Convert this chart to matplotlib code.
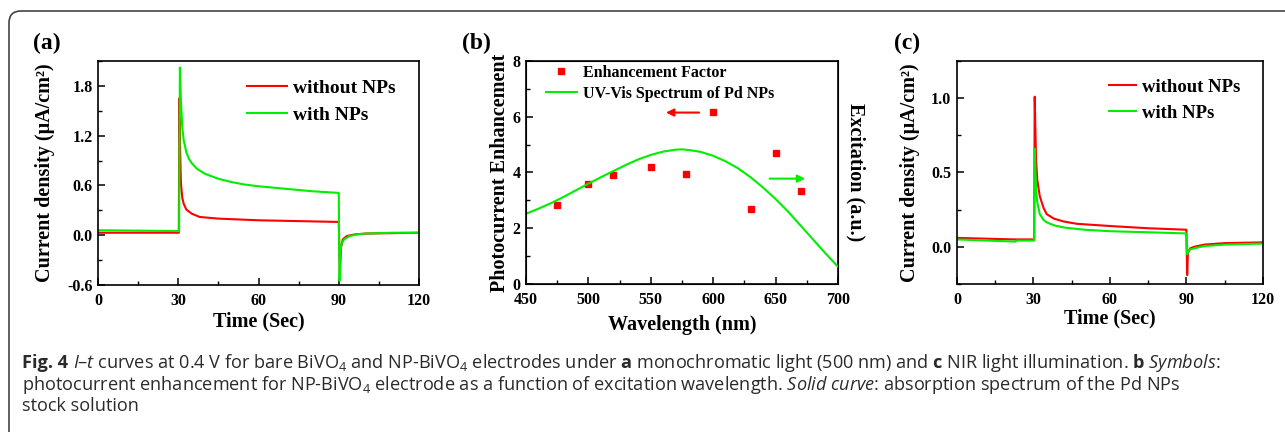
import matplotlib
matplotlib.use('Agg')
import matplotlib.pyplot as plt
from matplotlib.patches import FancyBboxPatch
from matplotlib.ticker import MultipleLocator

plt.rcParams['font.family'] = ['Liberation Serif', 'DejaVu Serif']
plt.rcParams['font.weight'] = 'bold'
plt.rcParams['axes.labelweight'] = 'bold'
plt.rcParams['axes.unicode_minus'] = False
plt.rcParams['mathtext.fontset'] = 'custom'
plt.rcParams['mathtext.rm'] = 'Open Sans:normal'
plt.rcParams['mathtext.it'] = 'Open Sans:italic:normal'
plt.rcParams['mathtext.bf'] = 'Open Sans:bold'
plt.rcParams['mathtext.default'] = 'regular'

# (a) monochromatic light 500 nm
t_a_red = [0, 30.2, 30.4, 30.7, 31, 31.5, 32, 33, 35, 38, 45, 60, 75, 90, 90.1, 90.4, 90.8, 91.5, 93, 96, 100, 120]
j_a_red = [0.03, 0.03, 1.65, 1.0, 0.62, 0.45, 0.38, 0.31, 0.26, 0.22, 0.2, 0.18, 0.17, 0.16, 0.0, -0.5, -0.15, -0.05, -0.01, 0.01, 0.02, 0.03]
t_a_green = [0, 30.3, 30.6, 31, 31.5, 32, 33, 34, 35, 37, 40, 45, 50, 55, 60, 70, 80, 90, 90.1, 90.3, 90.6, 91, 92, 94, 97, 100, 110, 120]
j_a_green = [0.06, 0.05, 2.02, 1.6, 1.3, 1.15, 1.0, 0.92, 0.87, 0.8, 0.74, 0.68, 0.64, 0.61, 0.59, 0.56, 0.53, 0.51, 0.0, -0.55, -0.2, -0.1, -0.05, -0.01, 0.01, 0.02, 0.03, 0.03]

# (b) enhancement factor and UV-Vis spectrum
wl_points = [475, 500, 520, 550, 578, 600, 630, 650, 670]
enhancement = [2.83, 3.59, 3.9, 4.19, 3.95, 6.17, 2.69, 4.69, 3.34]
wl_spec = [450, 460, 470, 480, 490, 500, 510, 520, 530, 540, 550, 560, 570, 575, 580, 590, 600, 610, 620, 630, 640, 650, 660, 670, 680, 690, 700]
absorb = [2.52, 2.7, 2.9, 3.12, 3.36, 3.6, 3.83, 4.05, 4.27, 4.47, 4.63, 4.75, 4.82, 4.83, 4.81, 4.74, 4.6, 4.4, 4.15, 3.83, 3.46, 3.05, 2.6, 2.1, 1.6, 1.1, 0.62]

# (c) NIR light
t_c_red = [0, 22, 30.3, 30.5, 31, 31.5, 32.5, 34, 35.2, 38, 42, 47, 60, 75, 90, 90.1, 90.3, 90.6, 91.5, 93, 97, 105, 120]
j_c_red = [0.06, 0.05, 0.05, 1.01, 0.6, 0.45, 0.34, 0.26, 0.22, 0.19, 0.17, 0.155, 0.14, 0.125, 0.115, 0.0, -0.19, -0.04, -0.01, 0.0, 0.015, 0.025, 0.03]
t_c_green = [0, 23, 23.2, 30.3, 30.5, 31, 31.5, 32.5, 34, 35.2, 38, 42, 50, 60, 75, 90, 90.1, 90.3, 91, 93, 97, 105, 120]
j_c_green = [0.05, 0.035, 0.042, 0.042, 0.66, 0.4, 0.3, 0.22, 0.18, 0.165, 0.145, 0.13, 0.115, 0.105, 0.098, 0.09, 0.0, -0.05, -0.02, -0.01, 0.005, 0.015, 0.022]

RED = '#ff0000'
GREEN = '#00ee00'

fig = plt.figure(figsize=(12.85, 4.32), dpi=100)

# marco redondeado
marco = FancyBboxPatch((0.09, -1.0), 14.0, 5.21, boxstyle='round,pad=0,rounding_size=0.12',
                       transform=fig.dpi_scale_trans, fill=False, edgecolor='#444444', linewidth=1.2)
fig.patches.append(marco)


def estilo_ejes(ax, xmaj, xmin, ymaj, ymin):
    ax.xaxis.set_major_locator(MultipleLocator(xmaj))
    ax.xaxis.set_minor_locator(MultipleLocator(xmin))
    ax.yaxis.set_major_locator(MultipleLocator(ymaj))
    ax.yaxis.set_minor_locator(MultipleLocator(ymin))
    ax.tick_params(which='major', direction='in', length=5, width=1.1, labelsize=11.5, pad=4)
    ax.tick_params(axis='x', which='major', pad=5.5)
    ax.tick_params(which='minor', direction='in', length=3, width=1.0)
    for s in ax.spines.values():
        s.set_linewidth(1.2)


# (a)
ax1 = fig.add_axes([0.0763, 0.3403, 0.2498, 0.5185])
ax1.plot(t_a_red, j_a_red, color=RED, lw=1.5, label='without NPs')
ax1.plot(t_a_green, j_a_green, color=GREEN, lw=1.5, label='with NPs')
ax1.set_xlim(0, 120)
ax1.set_ylim(-0.6, 2.1)
estilo_ejes(ax1, 30, 15, 0.6, 0.3)
ax1.set_xlabel('Time (Sec)', fontsize=14.5)
ax1.set_ylabel('Current density (μA/cm²)', fontsize=14.5)
ax1.xaxis.set_label_coords(0.5, -0.12)
ax1.yaxis.set_label_coords(-0.134, 0.5)
ax1.legend(loc='upper left', bbox_to_anchor=(0.464, 0.917), frameon=False, fontsize=14,
           handlelength=2.06, handletextpad=0.3, labelspacing=0.45, borderpad=0, borderaxespad=0)

# (b)
ax2 = fig.add_axes([0.4093, 0.3426, 0.2428, 0.5162])
ax2.plot(wl_points, enhancement, 's', color=RED, markersize=5, label='Enhancement Factor')
ax2.set_xlim(450, 700)
ax2.set_ylim(0, 8)
estilo_ejes(ax2, 50, 25, 2, 1)
ax2.set_xlabel('Wavelength (nm)', fontsize=14.5)
ax2.set_ylabel('Photocurrent Enhancement', fontsize=14.5)
ax2.xaxis.set_label_coords(0.5, -0.139)
ax2.yaxis.set_label_coords(-0.051, 0.5)
ax2b = ax2.twinx()
ax2b.plot(wl_spec, absorb, color=GREEN, lw=1.5, label='UV-Vis Spectrum of Pd NPs')
ax2b.set_ylim(0, 8)
ax2b.set_yticks([])
ax2b.set_ylabel('Excitation (a.u.)', fontsize=14.5, rotation=-90)
ax2b.yaxis.set_label_coords(1.087, 0.5)
ax2.annotate('', xy=(560, 6.15), xytext=(591, 6.15),
             arrowprops=dict(arrowstyle='-|>', color=RED, lw=1.5, mutation_scale=11))
ax2.annotate('', xy=(676, 3.78), xytext=(643, 3.78),
             arrowprops=dict(arrowstyle='-|>', color=GREEN, lw=1.5, mutation_scale=11))
h1, l1 = ax2.get_legend_handles_labels()
h2, l2 = ax2b.get_legend_handles_labels()
ax2b.legend(h1 + h2, l1 + l2, loc='upper left', bbox_to_anchor=(0.064, 0.982), frameon=False,
            fontsize=11.5, numpoints=1, handlelength=1.94, handletextpad=0.375, labelspacing=0.3,
            borderpad=0, borderaxespad=0)

# (c)
ax3 = fig.add_axes([0.7447, 0.3426, 0.2381, 0.5162])
ax3.plot(t_c_red, j_c_red, color=RED, lw=1.5, label='without NPs')
ax3.plot(t_c_green, j_c_green, color=GREEN, lw=1.5, label='with NPs')
ax3.set_xlim(0, 120)
ax3.set_ylim(-0.25, 1.25)
estilo_ejes(ax3, 30, 15, 0.5, 0.25)
ax3.set_xlabel('Time (Sec)', fontsize=14.5)
ax3.set_ylabel('Current density (μA/cm²)', fontsize=14.5)
ax3.xaxis.set_label_coords(0.5, -0.108)
ax3.yaxis.set_label_coords(-0.121, 0.5)
ax3.legend(loc='upper left', bbox_to_anchor=(0.497, 0.92), frameon=False, fontsize=13.5,
           handlelength=1.45, handletextpad=0.3, labelspacing=0.45, borderpad=0, borderaxespad=0)

# etiquetas de panel
for x, lab in [(33, '(a)'), (462, '(b)'), (894, '(c)')]:
    fig.text(x / 1285, 1 - 43 / 432, lab, fontsize=17, fontweight='bold', va='center', ha='left')

# pie de figura
CAP_SIZE = 13.1
CAP_COLOR = '#2a2a2a'
fig_tag = fig.text(22 / 1285, 1 - 368 / 432, 'Fig. 4', fontsize=CAP_SIZE, family='Open Sans',
                   fontweight='bold', color=CAP_COLOR, va='baseline', ha='left')
renderer = fig.canvas.get_renderer()
x_fin = fig_tag.get_window_extent(renderer).x1 + 5

lineas = [
    r'$\mathit{I}$–$\mathit{t}$ curves at 0.4 V for bare BiVO$_4$ and NP-BiVO$_4$ electrodes under '
    r'$\mathbf{a}$ monochromatic light (500 nm) and $\mathbf{c}$ NIR light illumination. $\mathbf{b}$ $\mathit{Symbols}$:',
    r'photocurrent enhancement for NP-BiVO$_4$ electrode as a function of excitation wavelength. '
    r'$\mathit{Solid}$ $\mathit{curve}$: absorption spectrum of the Pd NPs',
    'stock solution',
]
for x, y, txt in zip([x_fin / 1285, 22 / 1285, 22 / 1285], [368, 390, 411], lineas):
    fig.text(x, 1 - y / 432, txt, fontsize=CAP_SIZE, family='Open Sans', fontweight='normal',
             color=CAP_COLOR, va='baseline', ha='left')

plt.savefig('out.png', dpi=100)
plt.close()
